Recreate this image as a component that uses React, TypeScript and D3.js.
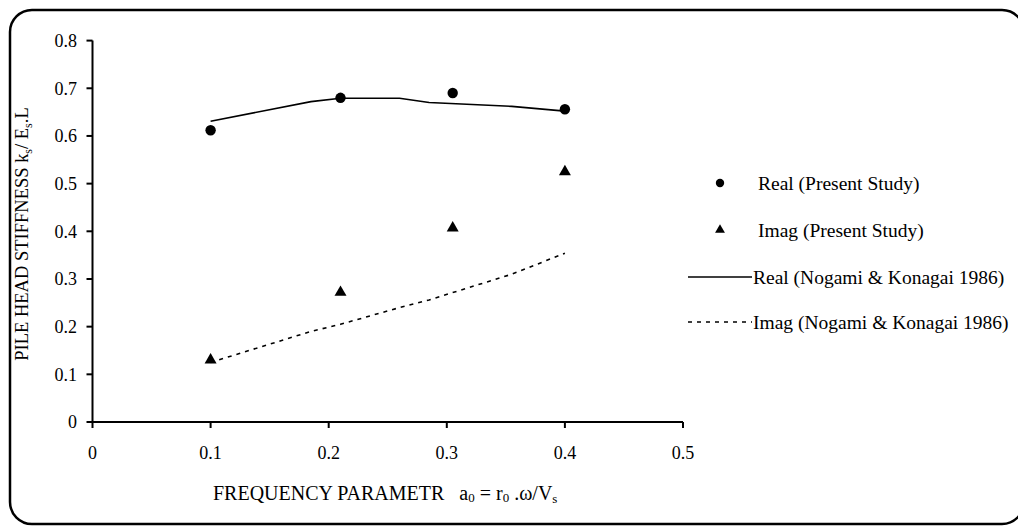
import * as d3 from 'd3'

// x ticks and y ticks
const xTicks = [0, 0.1, 0.2, 0.3, 0.4, 0.5]
const yTicks = [0, 0.1, 0.2, 0.3, 0.4, 0.5, 0.6, 0.7, 0.8]

// present study (markers)
const studyX = [0.1, 0.21, 0.305, 0.4]
const realStudy = [0.612, 0.68, 0.69, 0.656]
const imagStudy = [0.13, 0.272, 0.407, 0.525]

// Nogami & Konagai 1986 (lines)
const nogamiX = [0.1, 0.185, 0.21, 0.26, 0.285, 0.355, 0.4]
const realNogami = [0.631, 0.672, 0.679, 0.679, 0.67, 0.662, 0.652]
const imagNogami = [0.125, 0.19, 0.205, 0.24, 0.256, 0.31, 0.354]

const legendLabels = [
  'Real (Present Study)',
  'Imag (Present Study)',
  'Real (Nogami & Konagai 1986)',
  'Imag (Nogami & Konagai 1986)',
]

const W = 1018
const H = 526
const FONT = "'Liberation Serif', 'DejaVu Serif', serif"

export default function App() {
  const x = d3.scaleLinear().domain([0, 0.5]).range([92.5, 683])
  const y = d3.scaleLinear().domain([0, 0.8]).range([422, 40.6])

  const line = d3.line<number>()
    .x((_, i) => x(nogamiX[i]))
    .y(d => y(d))

  const tri = d3.symbol().type(d3.symbolTriangle).size(62)()
  const triSmall = d3.symbol().type(d3.symbolTriangle).size(42)()

  const legendY = [183, 230, 277, 322]

  return (
    <svg width={W} height={H} style={{ position: 'absolute', left: 0, top: 0, background: '#fff', fontFamily: FONT }}>
      <rect x={10} y={10} width={1014} height={514} rx={22} fill="#fff" stroke="#000" strokeWidth={2.5} />

      {/* axes */}
      <line x1={x(0)} x2={x(0)} y1={y(0.8)} y2={y(0)} stroke="#000" strokeWidth={2} />
      <line x1={x(0)} x2={x(0.5)} y1={y(0)} y2={y(0)} stroke="#000" strokeWidth={2} />
      {yTicks.map(t => (
        <g key={'y' + t}>
          <line x1={x(0) - 6} x2={x(0)} y1={y(t)} y2={y(t)} stroke="#000" strokeWidth={2} />
          <text x={77} y={y(t)} dy="0.35em" textAnchor="end" fontSize={18}>{d3.format('')(t)}</text>
        </g>
      ))}
      {xTicks.map(t => (
        <g key={'x' + t}>
          <line x1={x(t)} x2={x(t)} y1={y(0)} y2={y(0) + 6} stroke="#000" strokeWidth={2} />
          <text x={x(t)} y={453} dy="0.35em" textAnchor="middle" fontSize={18}>{d3.format('')(t)}</text>
        </g>
      ))}

      {/* axis titles */}
      <text transform={`translate(28,234) rotate(-90)`} textAnchor="middle" fontSize={18.5}>
        PILE HEAD STIFFNESS k<tspan fontSize={12} dy={4}>s</tspan><tspan dy={-4}>/ E</tspan>
        <tspan fontSize={12} dy={4}>s</tspan><tspan dy={-4}>.L</tspan>
      </text>
      <text x={213} y={493} dy="0.35em" fontSize={20}>
        FREQUENCY PARAMETR{'\u00a0\u00a0\u00a0'}a<tspan fontSize={13} dy={2}>0</tspan>
        <tspan dy={-2}> = r</tspan><tspan fontSize={13} dy={2}>0</tspan>
        <tspan dy={-2}>{'\u00a0'}.ω/V</tspan><tspan fontSize={13} dy={3}>s</tspan>
      </text>

      {/* lines */}
      <path d={line(realNogami) ?? ''} fill="none" stroke="#000" strokeWidth={1.6} />
      <path d={line(imagNogami) ?? ''} fill="none" stroke="#000" strokeWidth={1.6} strokeDasharray="4,5" />

      {/* markers */}
      {realStudy.map((v, i) => (
        <circle key={'r' + i} cx={x(studyX[i])} cy={y(v)} r={5.2} fill="#000" />
      ))}
      {imagStudy.map((v, i) => (
        <path key={'t' + i} d={tri ?? ''} transform={`translate(${x(studyX[i])},${y(v)})`} fill="#000" />
      ))}

      {/* legend */}
      <circle cx={720} cy={legendY[0]} r={4.2} fill="#000" />
      <path d={triSmall ?? ''} transform={`translate(720,${legendY[1]})`} fill="#000" />
      <line x1={688} x2={752} y1={legendY[2]} y2={legendY[2]} stroke="#000" strokeWidth={1.6} />
      <line x1={688} x2={752} y1={legendY[3]} y2={legendY[3]} stroke="#000" strokeWidth={1.6} strokeDasharray="4,5" />
      {legendLabels.map((l, i) => (
        <text key={l} x={i < 2 ? 758 : 753} y={legendY[i]} dy="0.35em" fontSize={19.5}>{l}</text>
      ))}
    </svg>
  )
}
